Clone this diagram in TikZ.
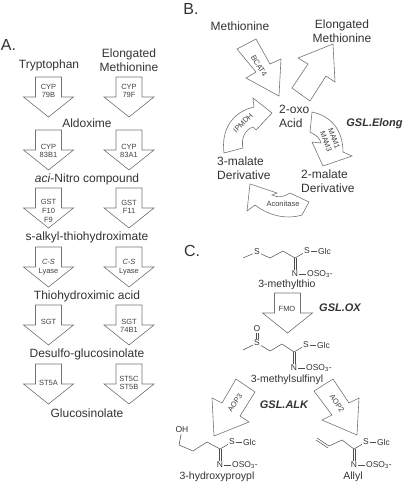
\documentclass[tikz,border=0pt]{standalone}
\usepackage{fontspec}
\setmainfont{Liberation Sans}
\usepackage{tikz}
\usetikzlibrary{arrows.meta, positioning, calc}

\begin{document}
\begin{tikzpicture}[
  x=1pt, y=-1pt,
  panel/.style={font=\fontsize{16}{18}\selectfont, text=black!80},
  cmpd/.style={font=\fontsize{12}{13.6}\selectfont, text=black!80, align=center, inner sep=0pt},
  chem/.style={font=\fontsize{10.5}{12}\selectfont, text=black!80, inner sep=0pt},
  enz/.style={font=\fontsize{7.5}{8.6}\selectfont, text=black!75, align=center, inner sep=0pt},
  grp/.style={font=\bfseries\itshape\fontsize{11}{13}\selectfont, text=black!80, inner sep=0pt},
  atom/.style={font=\fontsize{8.5}{10}\selectfont, text=black!80, inner sep=1pt},
  bond/.style={draw=black!70, line width=0.5pt},
  arrowline/.style={draw=black!55, line width=0.6pt, line join=miter},
  downarrow/.pic={
    \draw[arrowline] (-13,0) -- (13,0) -- (13,20) -- (25,20) -- (0,40) -- (-25,20) -- (-13,20) -- cycle;
  },
  oxime/.pic={
    \coordinate (-c) at (0,0);
    \node[atom] (-s) at (12,-7) {S};
    \node[atom] (-glc) at (29.5,-7) {Glc};
    \node[atom] (-n) at (0,16) {N};
    \node[atom, anchor=west] (-o) at (11,16) {OSO\textsubscript{3}-};
    \draw[bond] (-c) -- (-s);
    \draw[bond] (-s) -- (-glc);
    \draw[bond] ([xshift=-1pt]-c) -- ([xshift=-1pt]-n.north);
    \draw[bond] ([xshift=1pt]-c) -- ([xshift=1pt]-n.north);
    \draw[bond] (-n) -- (-o);
  }
]
  \useasboundingbox (0,0) rectangle (403,483);

  % Panel letters
  \node[panel] (lblA) at (8.5,45) {A.};
  \node[panel] (lblB) at (191,9) {B.};
  \node[panel] (lblC) at (192,251) {C.};

  % A: two columns of arrows
  \foreach \i/\y/\ly/\ry/\lft/\rgt in {
    1/77/91/91/{CYP\\79B}/{CYP\\79F},
    2/130/151/151/{CYP\\83B1}/{CYP\\83A1},
    3/188/211/207/{GST\\F10\\F9}/{GST\\F11},
    4/247/267/267/{\textit{C-S}\\Lyase}/{\textit{C-S}\\Lyase},
    5/305/322/326/{SGT}/{SGT\\74B1},
    6/364/383/383/{ST5A}/{ST5C\\ST5B}} {
    \pic at (48.5,\y) {downarrow};
    \pic at (129,\y) {downarrow};
    \node[enz] (enzL\i) at (48.5,\ly) {\lft};
    \node[enz] (enzR\i) at (129,\ry) {\rgt};
  }

  \node[cmpd] (trp) at (49,65) {Tryptophan};
  \node[cmpd] (elongA) at (129,60) {Elongated\\Methionine};
  \node[cmpd] (aldox) at (87,123) {Aldoxime};
  \node[cmpd] (nitro) at (87,179) {\textit{aci}-Nitro compound};
  \node[cmpd] (alkyl) at (87,237) {s-alkyl-thiohydroximate};
  \node[cmpd] (thio) at (87,296) {Thiohydroximic acid};
  \node[cmpd] (desulfo) at (87,354) {Desulfo-glucosinolate};
  \node[cmpd] (gluc) at (87,413) {Glucosinolate};

  % B: elongation cycle
  \node[cmpd] (met) at (240,26) {Methionine};
  \node[cmpd] (elongB) at (342,31.5) {Elongated\\Methionine};
  \node[cmpd, align=left, anchor=west] (oxo) at (279,116.5) {2-oxo\\Acid};
  \node[cmpd, align=left, anchor=west] (mal3) at (217,168) {3-malate\\Derivative};
  \node[cmpd, align=left, anchor=west] (mal2) at (301,181) {2-malate\\Derivative};
  \node[grp] (elong) at (374.5,124) {GSL.Elong};

  \draw[arrowline] (237,49) -- (256,39) -- (270,64) -- (281,59) -- (279,96) -- (246,78) -- (256,72) -- cycle;
  \draw[arrowline] (333,44) -- (298,58) -- (308,64) -- (292,88) -- (310,101) -- (326,76) -- (335,82) -- cycle;
  \draw[arrowline] (272,113) -- (253,98) -- (254,107) .. controls (232,112) and (221,130) .. (224,153)
    -- (243,148) .. controls (241,140) and (244,130) .. (253,127) -- (256,130) -- cycle;
  \draw[arrowline] (312,112) .. controls (331,116) and (343,130) .. (343,152) -- (352,156) -- (323,166)
    -- (312,142) -- (321,143) .. controls (320,138) and (316,135) .. (310,132) -- cycle;
  \draw[arrowline] (250,184) -- (277,193) -- (272,195) .. controls (278,198) and (284,197) .. (290,193)
    -- (309,202) -- (302,215) .. controls (285,220) and (268,215) .. (255,205) -- (247,211) -- cycle;

  \node[enz, rotate=-58] (bcat) at (259,66) {BCAT4};
  \node[enz, rotate=45] (ipmdh) at (243,123) {IPMDH};
  \node[enz, rotate=-70] (mam) at (330,140) {MAM1\\MAM3};
  \node[enz] (acon) at (283,204) {Aconitase};

  % C: side chain modification
  \pic (pA) at (295,258) {oxime};
  \node[atom] (sA) at (257,252) {S};
  \coordinate (mA) at (243,258);
  \coordinate (cA) at (270,258);
  \coordinate (dA) at (283,251);
  \draw[bond] (mA) -- (sA) -- (cA) -- (dA) -- (pA-c);
  \node[chem] (thioC) at (287,285) {3-methylthio};

  \pic at (287.5,293) {downarrow};
  \node[enz] (fmo) at (287,309) {FMO};
  \node[grp] (ox) at (340,308) {GSL.OX};

  \pic (pB) at (294,352) {oxime};
  \node[atom] (sB) at (257,343) {S};
  \node[atom] (oB) at (257,329) {O};
  \coordinate (mB) at (243,350);
  \coordinate (cB) at (270,351);
  \coordinate (dB) at (282,344);
  \draw[bond] (mB) -- (sB) -- (cB) -- (dB) -- (pB-c);
  \draw[bond] ([xshift=-1pt]oB.south) -- ([xshift=-1pt]sB.north);
  \draw[bond] ([xshift=1pt]oB.south) -- ([xshift=1pt]sB.north);
  \node[chem] (sulf) at (287,380) {3-methylsulfinyl};

  \draw[arrowline] (236,379) -- (255,392) -- (240,416) -- (249,422) -- (214,436) -- (212,398) -- (222,403) -- cycle;
  \draw[arrowline] (314,391) -- (333,379) -- (349,403) -- (359,398) -- (357,435) -- (322,420) -- (332,415) -- cycle;
  \node[enz, rotate=57] (aop3) at (235,403) {AOP3};
  \node[enz, rotate=-57] (aop2) at (337,403) {AOP2};
  \node[grp] (alk) at (284,405) {GSL.ALK};

  \pic (pC) at (220,449) {oxime};
  \node[atom] (oh) at (182,430) {OH};
  \coordinate (c1C) at (179,445);
  \coordinate (c2C) at (193,451);
  \coordinate (c3C) at (207,442);
  \draw[bond] (oh) -- (c1C) -- (c2C) -- (c3C) -- (pC-c);
  \node[chem] (hyd) at (217,477) {3-hydroxyproypl};

  \pic (pD) at (354,449) {oxime};
  \coordinate (v1D) at (317,438);
  \coordinate (v2D) at (329,446);
  \coordinate (c1D) at (342,440);
  \draw[bond] (v1D) -- (v2D) -- (c1D) -- (pD-c);
  \draw[bond] ($(v1D)+(-1,2)$) -- ($(v2D)+(-1,2)$);
  \node[chem] (allyl) at (353,477) {Allyl};
\end{tikzpicture}
\end{document}
